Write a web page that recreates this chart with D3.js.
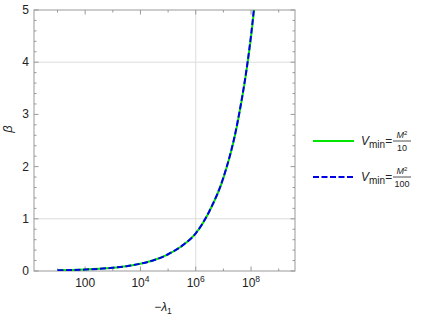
<!DOCTYPE html>
<html>
<head>
<meta charset="utf-8">
<script src="https://cdn.jsdelivr.net/npm/d3@7"></script>
<style>
  body { margin: 0; background: #fff; }
  svg { font-family: "Liberation Sans", Arial, sans-serif; }
</style>
</head>
<body>
<svg id="chart" width="423" height="316"></svg>
<script>
// -lambda_1 sample points (half decades) and beta
var lambdaValues = [1e1, 3.16e1, 1e2, 3.16e2, 1e3, 3.16e3, 1e4, 3.16e4, 1e5, 3.16e5,
                    1e6, 3.16e6, 1e7, 3.16e7, 1e8, 3.16e8];
var betaMin10  = [0.012, 0.018, 0.028, 0.042, 0.062, 0.092, 0.14, 0.21, 0.32, 0.48,
                  0.72, 1.15, 1.78, 2.8, 4.48, 7.2];
var betaMin100 = [0.012, 0.018, 0.028, 0.042, 0.062, 0.092, 0.14, 0.21, 0.321, 0.482,
                  0.723, 1.155, 1.79, 2.82, 4.52, 7.3];
var seriesNames = ["M\u00b2/10", "M\u00b2/100"];
var xMajorTicks = [1e2, 1e4, 1e6, 1e8];
var xMinorTicks = [1e1, 1e3, 1e5, 1e7, 1e9];
var yTicks = [0, 1, 2, 3, 4, 5];
var yGrid = [1, 4];
var xGrid = [1e6];

(function() {
var svg = d3.select("#chart");
var pl = 34, pr = 295, pt = 10, pb = 271;

var x = d3.scaleLog()
    .domain([Math.pow(10, 0.15), Math.pow(10, 9.59)])
    .range([pl, pr]);
var y = d3.scaleLinear()
    .domain([0, 5])
    .range([pb, pt]);

// grid
svg.append("g").selectAll("line").data(yGrid).enter().append("line")
    .attr("x1", pl).attr("x2", pr)
    .attr("y1", y).attr("y2", y)
    .attr("stroke", "#dcdcdc").attr("stroke-width", 1);
svg.append("g").selectAll("line").data(xGrid).enter().append("line")
    .attr("x1", x).attr("x2", x)
    .attr("y1", pt).attr("y2", pb)
    .attr("stroke", "#dcdcdc").attr("stroke-width", 1);

// frame
svg.append("rect")
    .attr("x", pl).attr("y", pt)
    .attr("width", pr - pl).attr("height", pb - pt)
    .attr("fill", "none").attr("stroke", "#999").attr("stroke-width", 1);

// ticks
var tickColor = "#999";
var yMinor = d3.range(0, 5.001, 0.2).filter(function(d) {
  return Math.abs(d - Math.round(d)) > 1e-6;
});
function drawYTicks(vals, len) {
  [pl, pr].forEach(function(x0, side) {
    var dir = side === 0 ? 1 : -1;
    svg.append("g").selectAll("line").data(vals).enter().append("line")
        .attr("x1", x0).attr("x2", x0 + dir * len)
        .attr("y1", function(d) { return y(d); })
        .attr("y2", function(d) { return y(d); })
        .attr("stroke", tickColor).attr("stroke-width", 1);
  });
}
drawYTicks(yTicks, 4.5);
drawYTicks(yMinor, 2.5);

function drawXTicks(vals, len) {
  [pb, pt].forEach(function(y0, side) {
    var dir = side === 0 ? -1 : 1;
    svg.append("g").selectAll("line").data(vals).enter().append("line")
        .attr("x1", function(d) { return x(d); })
        .attr("x2", function(d) { return x(d); })
        .attr("y1", y0).attr("y2", y0 + dir * len)
        .attr("stroke", tickColor).attr("stroke-width", 1);
  });
}
drawXTicks(xMajorTicks, 4.5);
drawXTicks(xMinorTicks, 2.5);

// tick labels
svg.append("g").selectAll("text").data(yTicks).enter().append("text")
    .attr("x", pl - 5)
    .attr("y", function(d) { return y(d) + 4; })
    .attr("text-anchor", "end")
    .attr("font-size", 12)
    .attr("fill", "#222")
    .text(function(d) { return d; });

var xl = svg.append("g").selectAll("text").data(xMajorTicks).enter().append("text")
    .attr("x", function(d) { return x(d); })
    .attr("y", pb + 16)
    .attr("text-anchor", "middle")
    .attr("font-size", 12)
    .attr("fill", "#222");
xl.each(function(d) {
  var t = d3.select(this), e = Math.round(Math.log10(d));
  if (e === 2) { t.text("100"); return; }
  t.append("tspan").text("10");
  t.append("tspan").attr("font-size", 8.5).attr("dy", -5).text(e);
});

// axis labels
svg.append("text")
    .attr("transform", "translate(12," + (y(2.72)) + ") rotate(-90)")
    .attr("text-anchor", "middle")
    .attr("font-size", 13)
    .attr("font-style", "italic")
    .attr("fill", "#222")
    .text("\u03b2");

var xt = svg.append("text")
    .attr("x", 163).attr("y", 311)
    .attr("text-anchor", "middle")
    .attr("font-size", 12)
    .attr("fill", "#222");
xt.append("tspan").text("\u2212");
xt.append("tspan").attr("font-style", "italic").text("\u03bb");
xt.append("tspan").attr("font-size", 8.5).attr("dy", 3).text("1");

// curves
svg.append("clipPath").attr("id", "plotclip").append("rect")
    .attr("x", pl).attr("y", pt)
    .attr("width", pr - pl).attr("height", pb - pt);

var line = d3.line()
    .x(function(d) { return x(d[0]); })
    .y(function(d) { return y(d[1]); })
    .curve(d3.curveMonotoneX);

var series = [
  { name: seriesNames[0], values: betaMin10, color: "#00e600", dash: null },
  { name: seriesNames[1], values: betaMin100, color: "#0000e6", dash: "6,2.5" }
];

series.forEach(function(s) {
  svg.append("path")
      .datum(d3.zip(lambdaValues, s.values))
      .attr("clip-path", "url(#plotclip)")
      .attr("d", line)
      .attr("fill", "none")
      .attr("stroke", s.color)
      .attr("stroke-width", 2)
      .attr("stroke-dasharray", s.dash);
});

// legend
var legend = svg.append("g");
series.forEach(function(s, i) {
  var ly = 141 + i * 36;
  legend.append("line")
      .attr("x1", 313).attr("x2", 354)
      .attr("y1", ly).attr("y2", ly)
      .attr("stroke", s.color).attr("stroke-width", 2)
      .attr("stroke-dasharray", s.dash);

  var t = legend.append("text")
      .attr("x", 361).attr("y", ly + 4)
      .attr("font-size", 12)
      .attr("fill", "#222");
  t.append("tspan").attr("font-style", "italic").text("V");
  t.append("tspan").attr("font-size", 10).attr("dy", 3).text("min");
  t.append("tspan").attr("dy", -3).text("=");

  var fx = 402, denom = s.name.split("/")[1];
  var num = legend.append("text")
      .attr("x", fx).attr("y", ly - 3)
      .attr("text-anchor", "middle")
      .attr("font-size", 9)
      .attr("fill", "#222");
  num.append("tspan").attr("font-style", "italic").text("M");
  num.append("tspan").attr("font-size", 6).attr("dy", -3).text("2");
  legend.append("line")
      .attr("x1", fx - 9).attr("x2", fx + 9)
      .attr("y1", ly).attr("y2", ly)
      .attr("stroke", "#222").attr("stroke-width", 0.8);
  legend.append("text")
      .attr("x", fx).attr("y", ly + 10)
      .attr("text-anchor", "middle")
      .attr("font-size", 9)
      .attr("fill", "#222")
      .text(denom);
});
})();
</script>
</body>
</html>
